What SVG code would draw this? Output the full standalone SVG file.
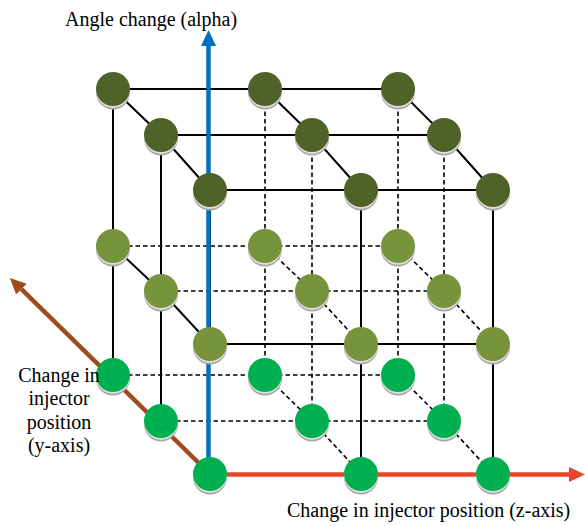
<svg xmlns="http://www.w3.org/2000/svg" width="585" height="526" viewBox="0 0 585 526">
<style>
.s{stroke:#000;stroke-width:2;fill:none}
.d{stroke:#000;stroke-width:1.6;fill:none;stroke-dasharray:4.5,3}
.sh1{fill:#a6a6a6}
.sh2{fill:#e0e0e0}
.t{fill:#4f6228}
.m{fill:#77933c}
.b{fill:#00b050}
text{font-family:"Liberation Serif","Times New Roman",serif;font-size:20px;fill:#000}
</style>
<defs>
<marker id="ab" markerUnits="userSpaceOnUse" markerWidth="16" markerHeight="15" refX="0" refY="7.5" orient="auto"><path d="M0,0 L16,7.5 L0,15 z" fill="#0070c0"/></marker>
<marker id="ar" markerUnits="userSpaceOnUse" markerWidth="16" markerHeight="15" refX="0" refY="7.5" orient="auto"><path d="M0,0 L16,7.5 L0,15 z" fill="#e8452c"/></marker>
<marker id="an" markerUnits="userSpaceOnUse" markerWidth="16" markerHeight="15" refX="0" refY="7.5" orient="auto"><path d="M0,0 L16,7.5 L0,15 z" fill="#9e4b1e"/></marker>
<g id="n">
<circle cx="0" cy="3.5" r="17" class="sh1"/>
<circle cx="0" cy="1.8" r="17" class="sh2"/>
</g>
</defs>
<g id="connectors">
<!-- top layer -->
<path class="s" d="M113,89H398M161,135H444M210,190H493M113,89L161,135L210,190M265,89L312,135L361,190M398,89L444,135L493,190"/>
<!-- verticals top to mid -->
<path class="s" d="M113,89V246M161,135V291M210,190V344M361,190V344M493,190V344"/>
<path class="d" d="M265,89V246M312,135V291M398,89V246M444,135V291"/>
<!-- mid layer -->
<path class="d" d="M113,246H398M161,291H444M265,246L312,291L361,344M398,246L444,291L493,344"/>
<path class="s" d="M210,344H493M113,246L161,291L210,344"/>
<!-- verticals mid to bottom -->
<path class="s" d="M113,246V375M161,291V421M361,344V474M493,344V474"/>
<path class="d" d="M265,246V375M312,291V421M398,246V375M444,291V421"/>
<!-- bottom layer -->
<path class="d" d="M113,375H398M161,421H444M265,375L312,421L361,474M398,375L444,421L493,474"/>
<!-- axes -->
<line x1="208.5" y1="474" x2="208.5" y2="46" stroke="#0070c0" stroke-width="4.5" marker-end="url(#ab)"/>
<line x1="210" y1="474.5" x2="569" y2="474.5" stroke="#e8452c" stroke-width="4.5" marker-end="url(#ar)"/>
<line x1="210" y1="474" x2="21.4" y2="289.2" stroke="#9e4b1e" stroke-width="4.5" marker-end="url(#an)"/>
</g>
<!-- top layer nodes -->
<g id="t00"><use href="#n" x="113" y="89"/><circle cx="113" cy="89" r="17" class="t"/></g>
<g id="t01"><use href="#n" x="265" y="89"/><circle cx="265" cy="89" r="17" class="t"/></g>
<g id="t02"><use href="#n" x="398" y="89"/><circle cx="398" cy="89" r="17" class="t"/></g>
<g id="t10"><use href="#n" x="161" y="135"/><circle cx="161" cy="135" r="17" class="t"/></g>
<g id="t11"><use href="#n" x="312" y="135"/><circle cx="312" cy="135" r="17" class="t"/></g>
<g id="t12"><use href="#n" x="444" y="135"/><circle cx="444" cy="135" r="17" class="t"/></g>
<g id="t20"><use href="#n" x="210" y="190"/><circle cx="210" cy="190" r="17" class="t"/></g>
<g id="t21"><use href="#n" x="361" y="190"/><circle cx="361" cy="190" r="17" class="t"/></g>
<g id="t22"><use href="#n" x="493" y="190"/><circle cx="493" cy="190" r="17" class="t"/></g>
<!-- middle layer nodes -->
<g id="m00"><use href="#n" x="113" y="246"/><circle cx="113" cy="246" r="17" class="m"/></g>
<g id="m01"><use href="#n" x="265" y="246"/><circle cx="265" cy="246" r="17" class="m"/></g>
<g id="m02"><use href="#n" x="398" y="246"/><circle cx="398" cy="246" r="17" class="m"/></g>
<g id="m10"><use href="#n" x="161" y="291"/><circle cx="161" cy="291" r="17" class="m"/></g>
<g id="m11"><use href="#n" x="312" y="291"/><circle cx="312" cy="291" r="17" class="m"/></g>
<g id="m12"><use href="#n" x="444" y="291"/><circle cx="444" cy="291" r="17" class="m"/></g>
<g id="m20"><use href="#n" x="210" y="344"/><circle cx="210" cy="344" r="17" class="m"/></g>
<g id="m21"><use href="#n" x="361" y="344"/><circle cx="361" cy="344" r="17" class="m"/></g>
<g id="m22"><use href="#n" x="493" y="344"/><circle cx="493" cy="344" r="17" class="m"/></g>
<!-- bottom layer nodes -->
<g id="b00"><use href="#n" x="113" y="375"/><circle cx="113" cy="375" r="17" class="b"/></g>
<g id="b01"><use href="#n" x="265" y="375"/><circle cx="265" cy="375" r="17" class="b"/></g>
<g id="b02"><use href="#n" x="398" y="375"/><circle cx="398" cy="375" r="17" class="b"/></g>
<g id="b10"><use href="#n" x="161" y="421"/><circle cx="161" cy="421" r="17" class="b"/></g>
<g id="b11"><use href="#n" x="312" y="421"/><circle cx="312" cy="421" r="17" class="b"/></g>
<g id="b12"><use href="#n" x="444" y="421"/><circle cx="444" cy="421" r="17" class="b"/></g>
<g id="b20"><use href="#n" x="210" y="474"/><circle cx="210" cy="474" r="17" class="b"/></g>
<g id="b21"><use href="#n" x="361" y="474"/><circle cx="361" cy="474" r="17" class="b"/></g>
<g id="b22"><use href="#n" x="493" y="474"/><circle cx="493" cy="474" r="17" class="b"/></g>
<g id="labels">
<text x="65" y="26">Angle change (alpha)</text>
<text x="287" y="517">Change in injector position (z-axis)</text>
<text text-anchor="middle"><tspan x="59" y="381.5">Change in</tspan><tspan x="59" y="405">injector</tspan><tspan x="59" y="428.5">position</tspan><tspan x="59" y="452">(y-axis)</tspan></text>
</g>
</svg>
